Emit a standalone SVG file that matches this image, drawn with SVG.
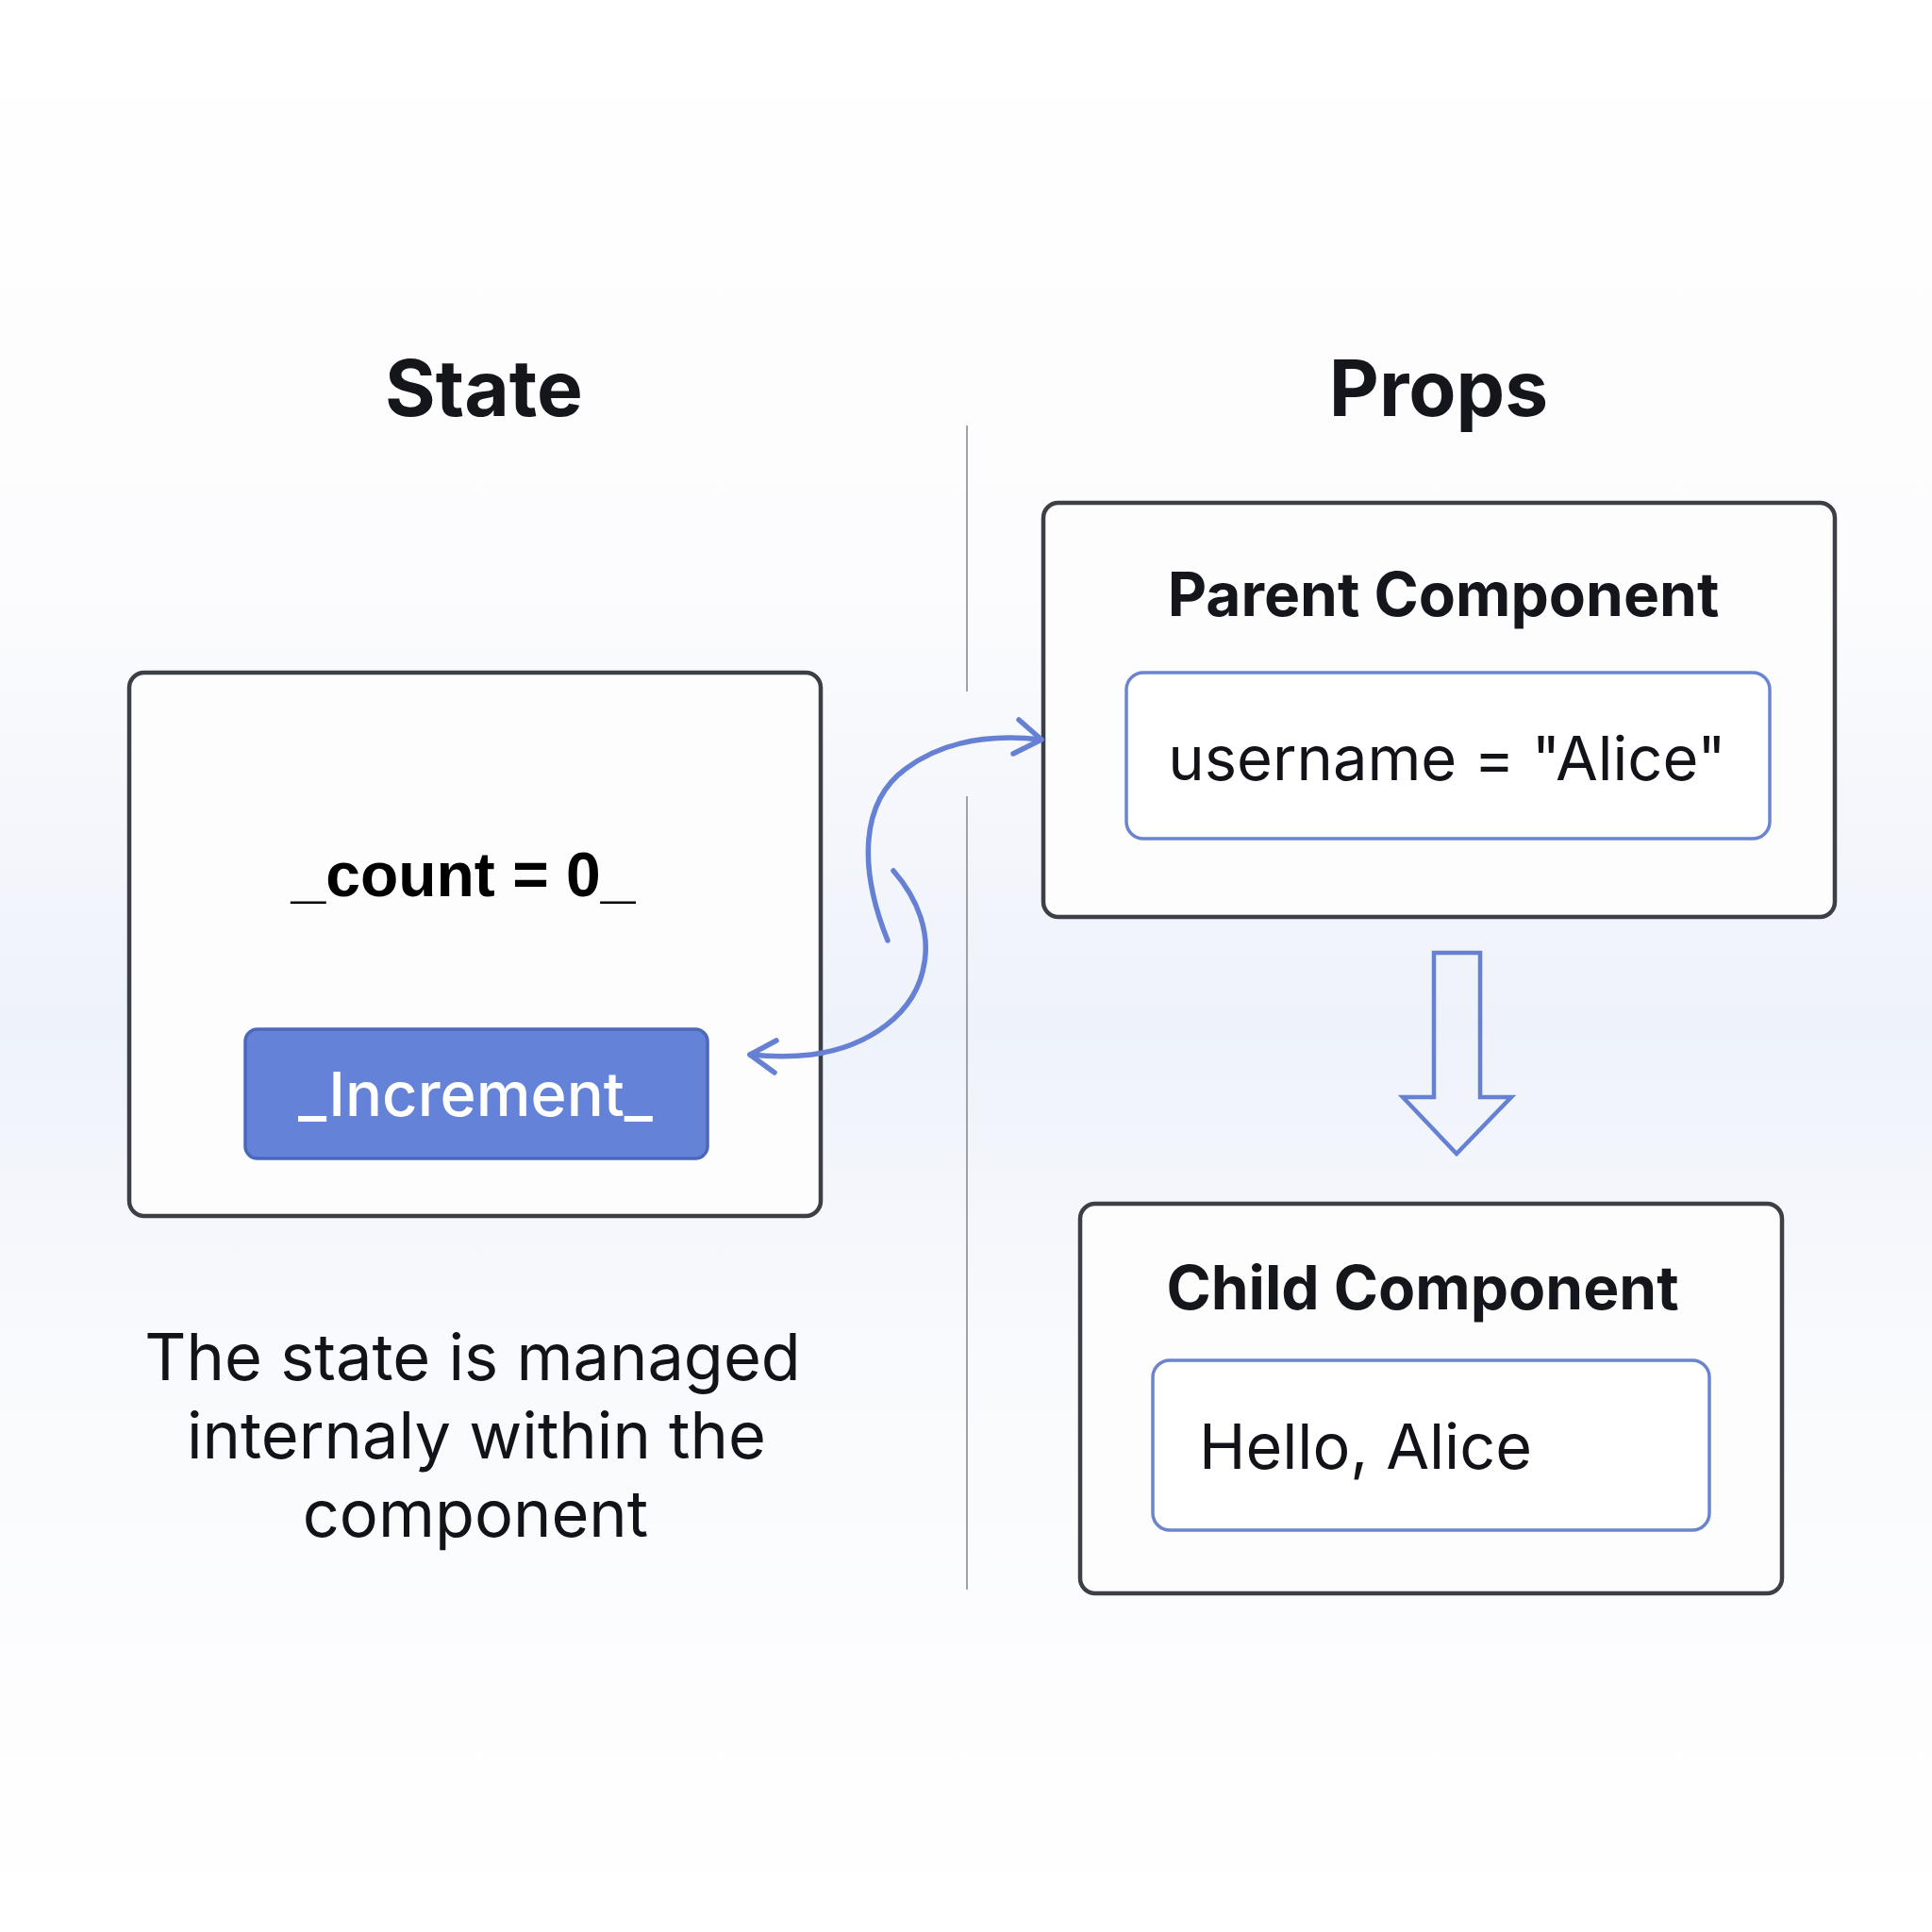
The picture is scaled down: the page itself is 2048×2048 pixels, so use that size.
<svg xmlns="http://www.w3.org/2000/svg" width="2048" height="2048" viewBox="0 0 2048 2048">
<defs>
<linearGradient id="bg" x1="0" y1="0" x2="0" y2="1">
<stop offset="0" stop-color="#ffffff"/>
<stop offset="0.3" stop-color="#fcfcfe"/>
<stop offset="0.53" stop-color="#eef2fa"/>
<stop offset="0.7" stop-color="#f9fafd"/>
<stop offset="1" stop-color="#ffffff"/>
</linearGradient>
<style>
.box{fill:#fdfdfe;stroke:#3d3f46;stroke-width:4.5}
.inner{fill:#ffffff;stroke:#6a84d0;stroke-width:3.5}
.title{font-family:Inter,"Liberation Sans",sans-serif;font-weight:700;fill:#14161c;text-anchor:middle}
.lbl{font-family:Inter,"Liberation Sans",sans-serif;fill:#111318}
.conn{fill:none;stroke:#6680d4;stroke-width:5.5;stroke-linecap:round;stroke-linejoin:round}
</style>
</defs>
<rect x="0" y="0" width="2048" height="2048" fill="url(#bg)"/>
<g id="titles">
<text class="title" x="513" y="441" font-size="82">State</text>
<text class="title" x="1525" y="441" font-size="82">Props</text>
</g>
<g id="divider" stroke="#8a8c92" stroke-width="1.6">
<line x1="1025" y1="451" x2="1025" y2="733"/>
<line x1="1025" y1="844" x2="1025" y2="1685"/>
</g>
<g id="state-box">
<rect class="box" x="137" y="713" width="733" height="576" rx="16"/>
<text x="491" y="950" font-family="'Liberation Sans',Arial,sans-serif" font-size="66" font-weight="700" fill="#000000" text-anchor="middle">_count = 0_</text>
</g>
<g id="increment-button">
<rect x="260" y="1091" width="490" height="137" rx="13" fill="#6482d8" stroke="#4c68ba" stroke-width="3.5"/>
<text x="504" y="1183" font-family="Inter,'Liberation Sans',sans-serif" font-size="65" font-weight="500" fill="#ffffff" text-anchor="middle">_Increment_</text>
</g>
<g id="caption">
<text class="lbl" x="501" y="1463" font-size="68.5" text-anchor="middle">The state is managed</text>
<text class="lbl" x="505" y="1546" font-size="68.5" text-anchor="middle">internaly within the</text>
<text class="lbl" x="504" y="1629" font-size="68.5" text-anchor="middle">component</text>
</g>
<g id="parent-component">
<rect class="box" x="1106" y="533" width="839" height="439" rx="16"/>
<text class="title" x="1530" y="653" font-size="64">Parent Component</text>
</g>
<g id="username">
<rect class="inner" x="1194" y="713" width="682" height="176" rx="18"/>
<text class="lbl" x="1534" y="827" font-size="65" text-anchor="middle">username = "Alice"</text>
</g>
<g id="child-component">
<rect class="box" x="1145" y="1276" width="744" height="413" rx="16"/>
<text class="title" x="1508" y="1388" font-size="64">Child Component</text>
</g>
<g id="hello">
<rect class="inner" x="1222" y="1442" width="590" height="180" rx="18"/>
<text class="lbl" x="1271" y="1557" font-size="66.5">Hello, Alice</text>
</g>
<g id="connectors">
<path class="conn" d="M941,997 C910,920 912,850 960,815 C1000,785 1050,778 1104,784"/>
<path class="conn" d="M1080,763 L1104,784 L1074,799"/>
<path class="conn" d="M947,923 C975,955 985,990 980,1020 C972,1075 920,1110 860,1118 C835,1121 815,1120 795,1118"/>
<path class="conn" d="M823,1103 L795,1118 L821,1137"/>
<path fill="none" stroke="#6680d4" stroke-width="4.5" stroke-linejoin="miter" d="M1520,1010 L1569,1010 L1569,1163 L1602,1163 L1544,1223 L1487,1163 L1520,1163 Z"/>
</g>
</svg>
